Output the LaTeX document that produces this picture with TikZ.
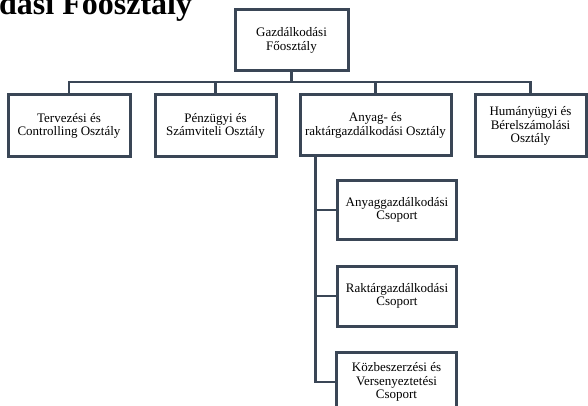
\documentclass[tikz,border=0pt]{standalone}
\usepackage{fontspec}
\setmainfont{Liberation Serif}
\definecolor{ln}{HTML}{3A4656}
\begin{document}
\begin{tikzpicture}[x=1pt,y=-1pt,
  box/.style={draw=ln, line width=3pt, fill=white, align=center, inner sep=0pt,
    font=\fontsize{13}{13.5}\selectfont, text=black},
  conn/.style={draw=ln, line width=2.8pt}]
\useasboundingbox (0,0) rectangle (588,406);
\node[anchor=base west, font=\fontsize{32}{32}\bfseries\selectfont, inner sep=0pt] (title) at (-1,15) {dási Főosztály};
\node[box, minimum width=113pt, minimum height=61pt] (top) at (291.5,40.5) {Gazdálkodási\\Főosztály};
\node[box, minimum width=122pt, minimum height=62pt] (b1) at (69,126) {Tervezési és\\Controlling Osztály};
\node[box, minimum width=121pt, minimum height=62pt] (b2) at (215.5,126) {Pénzügyi és\\Számviteli Osztály};
\node[box, minimum width=151pt, minimum height=61pt] (b3) at (375.5,125.5) {Anyag- és\\raktárgazdálkodási Osztály};
\node[box, minimum width=111pt, minimum height=62pt] (b4) at (530.5,126) {Humányügyi és\\Bérelszámolási\\Osztály};
\node[box, minimum width=119pt, minimum height=59pt] (ca) at (397,210) {Anyaggazdálkodási\\Csoport};
\node[box, minimum width=119pt, minimum height=60pt] (cb) at (397,296) {Raktárgazdálkodási\\Csoport};
\node[box, minimum width=120pt, minimum height=60pt] (cc) at (396.5,382) {Közbeszerzési és\\Versenyeztetési\\Csoport};
\coordinate (bus) at (291.5,82);
\draw[conn] (top.south) -- (bus);
\draw[conn] (b1.north) |- (bus) -| (b4.north);
\draw[conn] (b2.north) -- (b2.north |- bus);
\draw[conn] (b3.north) -- (b3.north |- bus);
\coordinate (vtop) at ([xshift=-60pt]b3.south);
\draw[conn] (vtop) |- (cc.west);
\draw[conn] (vtop |- ca.west) -- (ca.west);
\draw[conn] (vtop |- cb.west) -- (cb.west);
\end{tikzpicture}
\end{document}
